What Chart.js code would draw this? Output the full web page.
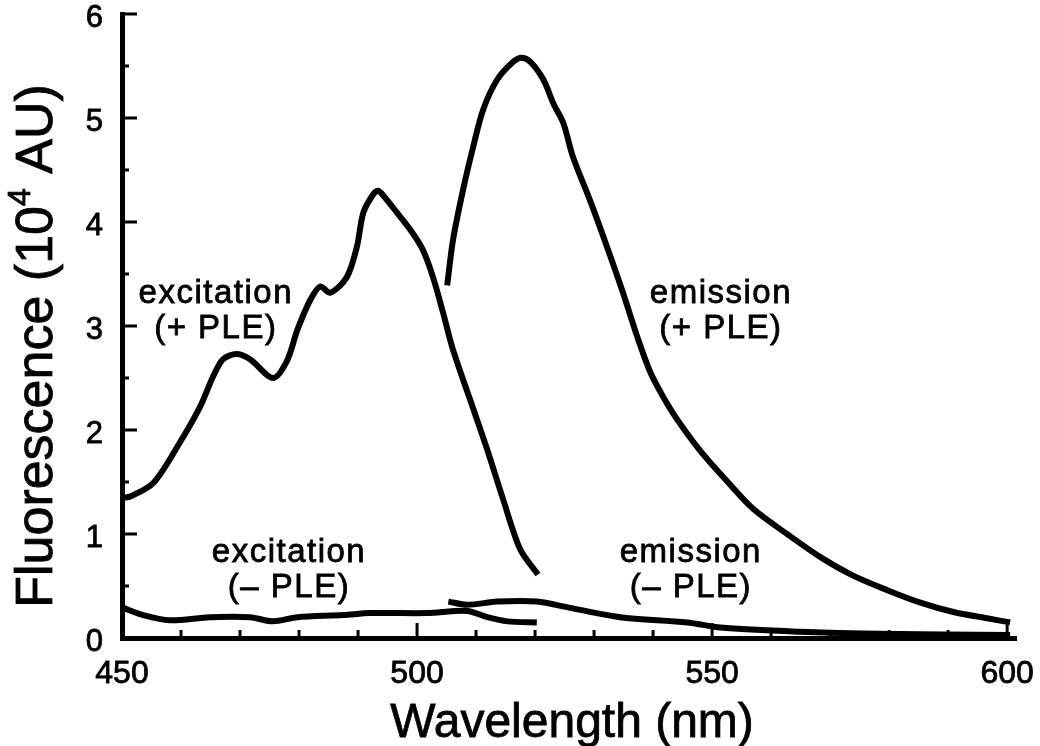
<!DOCTYPE html>
<html>
<head>
<meta charset="utf-8">
<script src="https://cdn.jsdelivr.net/npm/chart.js@4/dist/chart.umd.min.js"></script>
<style>
  html, body { margin: 0; padding: 0; background: #fff; }
  #wrap { width: 1040px; height: 746px; }
</style>
</head>
<body>
<div id="wrap"><canvas id="c" width="1040" height="746"></canvas></div>
<script>
// ---- Data ----
const exPlusX = [450.3, 451.4, 455.3, 459.8, 463.2, 465.4, 467.1, 469.4, 471.7, 475.6, 478.0, 479.7, 481.9, 483.6, 485.3, 488.1, 489.8, 490.9, 492.5, 493.4, 494.2, 496.6, 499.3, 501.0, 502.7, 504.4, 506.1, 509.0, 511.9, 514.6, 517.5, 520.5];
const exPlusY = [1.35, 1.36, 1.49, 1.88, 2.22, 2.51, 2.68, 2.73, 2.68, 2.50, 2.67, 2.96, 3.25, 3.38, 3.32, 3.47, 3.76, 4.09, 4.26, 4.30, 4.26, 4.09, 3.89, 3.73, 3.47, 3.13, 2.77, 2.29, 1.81, 1.33, 0.85, 0.61];

const emPlusX = [505.1, 506.1, 507.8, 509.5, 511.2, 513.6, 516.3, 517.7, 519.2, 521.4, 523.1, 524.8, 526.4, 529.3, 532.2, 534.9, 537.3, 539.5, 541.6, 544.1, 548.0, 552.5, 557.0, 562.7, 568.3, 573.9, 579.7, 585.3, 590.9, 596.6, 600.5];
const emPlusY = [3.39, 3.83, 4.31, 4.72, 5.08, 5.37, 5.54, 5.58, 5.54, 5.37, 5.14, 4.95, 4.63, 4.21, 3.76, 3.32, 2.90, 2.56, 2.33, 2.10, 1.80, 1.51, 1.24, 1.00, 0.78, 0.60, 0.46, 0.34, 0.25, 0.19, 0.15];

const exMinusX = [450.2, 453.6, 458.1, 464.9, 471.7, 475.6, 479.7, 487.5, 492.0, 501.7, 508.5, 511.9, 515.3, 520.3];
const exMinusY = [0.29, 0.22, 0.17, 0.20, 0.20, 0.16, 0.20, 0.22, 0.24, 0.24, 0.26, 0.20, 0.16, 0.15];

const emMinusX = [505.3, 508.5, 513.6, 520.3, 525.9, 534.4, 545.8, 551.4, 564.9, 578.0, 600.5];
const emMinusY = [0.35, 0.32, 0.35, 0.35, 0.29, 0.20, 0.15, 0.10, 0.06, 0.04, 0.03];

const xTickLabels = [450, 500, 550, 600];
const yTickLabels = [0, 1, 2, 3, 4, 5, 6];

const xTitle = 'Wavelength (nm)';
const yTitleParts = ['Fluorescence (10', '4', ' AU)'];

const curveLabels = [
  { lines: ['excitation', '(+ PLE)'], x: 465.9, y: 3.22 },
  { lines: ['emission', '(+ PLE)'],   x: 551.5, y: 3.22 },
  { lines: ['excitation', '(\u2013 PLE)'], x: 478.3, y: 0.73 },
  { lines: ['emission', '(\u2013 PLE)'],   x: 546.4, y: 0.73 }
];

const FONT = '"Liberation Sans", Arial, Helvetica, sans-serif';

function pts(xs, ys) { return xs.map((x, i) => ({ x: x, y: ys[i] })); }

function ds(xs, ys) {
  return {
    data: pts(xs, ys),
    showLine: true,
    borderColor: '#000',
    borderWidth: 6,
    pointRadius: 0,
    tension: 0.3,
    fill: false
  };
}

function txt(ctx, t, x, y) {
  ctx.fillText(t, x, y);
  ctx.strokeText(t, x, y);
}

const decor = {
  id: 'decor',
  afterDraw(chart) {
    const ctx = chart.ctx;
    const xs = chart.scales.x, ys = chart.scales.y;
    const area = chart.chartArea;
    ctx.save();
    ctx.strokeStyle = '#000';
    ctx.fillStyle = '#000';
    // inward ticks x
    ctx.lineWidth = 3;
    for (let v = 450; v <= 600; v += 10) {
      const px = xs.getPixelForValue(v);
      const len = (v % 50 === 0) ? 15 : 8;
      ctx.beginPath();
      ctx.moveTo(px, area.bottom);
      ctx.lineTo(px, area.bottom - len);
      ctx.stroke();
    }
    // inward ticks y
    for (let v = 0; v <= 6; v += 0.5) {
      const py = ys.getPixelForValue(v);
      const len = (Number.isInteger(v)) ? 15 : 7;
      ctx.beginPath();
      ctx.moveTo(area.left, py);
      ctx.lineTo(area.left + len, py);
      ctx.stroke();
    }
    ctx.lineWidth = 0.8;
    // tick labels
    ctx.font = '31px ' + FONT;
    ctx.textAlign = 'right';
    ctx.textBaseline = 'middle';
    yTickLabels.forEach(v => {
      txt(ctx, String(v), area.left - 19, ys.getPixelForValue(v) + 4);
    });
    ctx.font = '32px ' + FONT;
    ctx.textAlign = 'center';
    ctx.textBaseline = 'top';
    xTickLabels.forEach(v => {
      txt(ctx, String(v), xs.getPixelForValue(v), area.bottom + 20);
    });
    // x title
    ctx.font = '48px ' + FONT;
    ctx.textAlign = 'center';
    ctx.textBaseline = 'alphabetic';
    txt(ctx, xTitle, 572, 737);
    // y title with superscript
    ctx.save();
    ctx.translate(52, 346);
    ctx.rotate(-Math.PI / 2);
    ctx.textAlign = 'left';
    ctx.textBaseline = 'alphabetic';
    const big = '52px ' + FONT, small = '32px ' + FONT;
    ctx.font = big; const w1 = ctx.measureText(yTitleParts[0]).width;
    ctx.font = small; const w2 = ctx.measureText(yTitleParts[1]).width;
    ctx.font = big; const w3 = ctx.measureText(yTitleParts[2]).width;
    let sx = -(w1 + w2 + w3) / 2;
    ctx.font = big; txt(ctx, yTitleParts[0], sx, 0); sx += w1;
    ctx.font = small; txt(ctx, yTitleParts[1], sx, -22); sx += w2;
    ctx.font = big; txt(ctx, yTitleParts[2], sx, 0);
    ctx.restore();
    // curve labels
    ctx.font = '33px ' + FONT;
    if ('letterSpacing' in ctx) ctx.letterSpacing = '1.5px';
    ctx.textAlign = 'center';
    ctx.textBaseline = 'alphabetic';
    curveLabels.forEach(l => {
      const px = xs.getPixelForValue(l.x);
      const py = ys.getPixelForValue(l.y);
      l.lines.forEach((t, i) => txt(ctx, t, px, py + i * 35));
    });
    ctx.restore();
  }
};

new Chart(document.getElementById('c'), {
  type: 'scatter',
  data: {
    datasets: [
      ds(exPlusX, exPlusY),
      ds(emPlusX, emPlusY),
      ds(exMinusX, exMinusY),
      ds(emMinusX, emMinusY)
    ]
  },
  options: {
    responsive: false,
    devicePixelRatio: 1,
    animation: false,
    layout: { padding: { top: 14, right: 24, left: 0, bottom: 0 } },
    plugins: { legend: { display: false }, tooltip: { enabled: false } },
    scales: {
      x: {
        type: 'linear', min: 450, max: 601.5,
        grid: { display: false, drawTicks: false },
        border: { display: true, color: '#000', width: 5 },
        ticks: { display: false },
        afterFit: s => { s.height = 108; }
      },
      y: {
        type: 'linear', min: 0, max: 6,
        grid: { display: false, drawTicks: false },
        border: { display: true, color: '#000', width: 5 },
        ticks: { display: false },
        afterFit: s => { s.width = 122; }
      }
    }
  },
  plugins: [decor]
});
</script>
</body>
</html>
